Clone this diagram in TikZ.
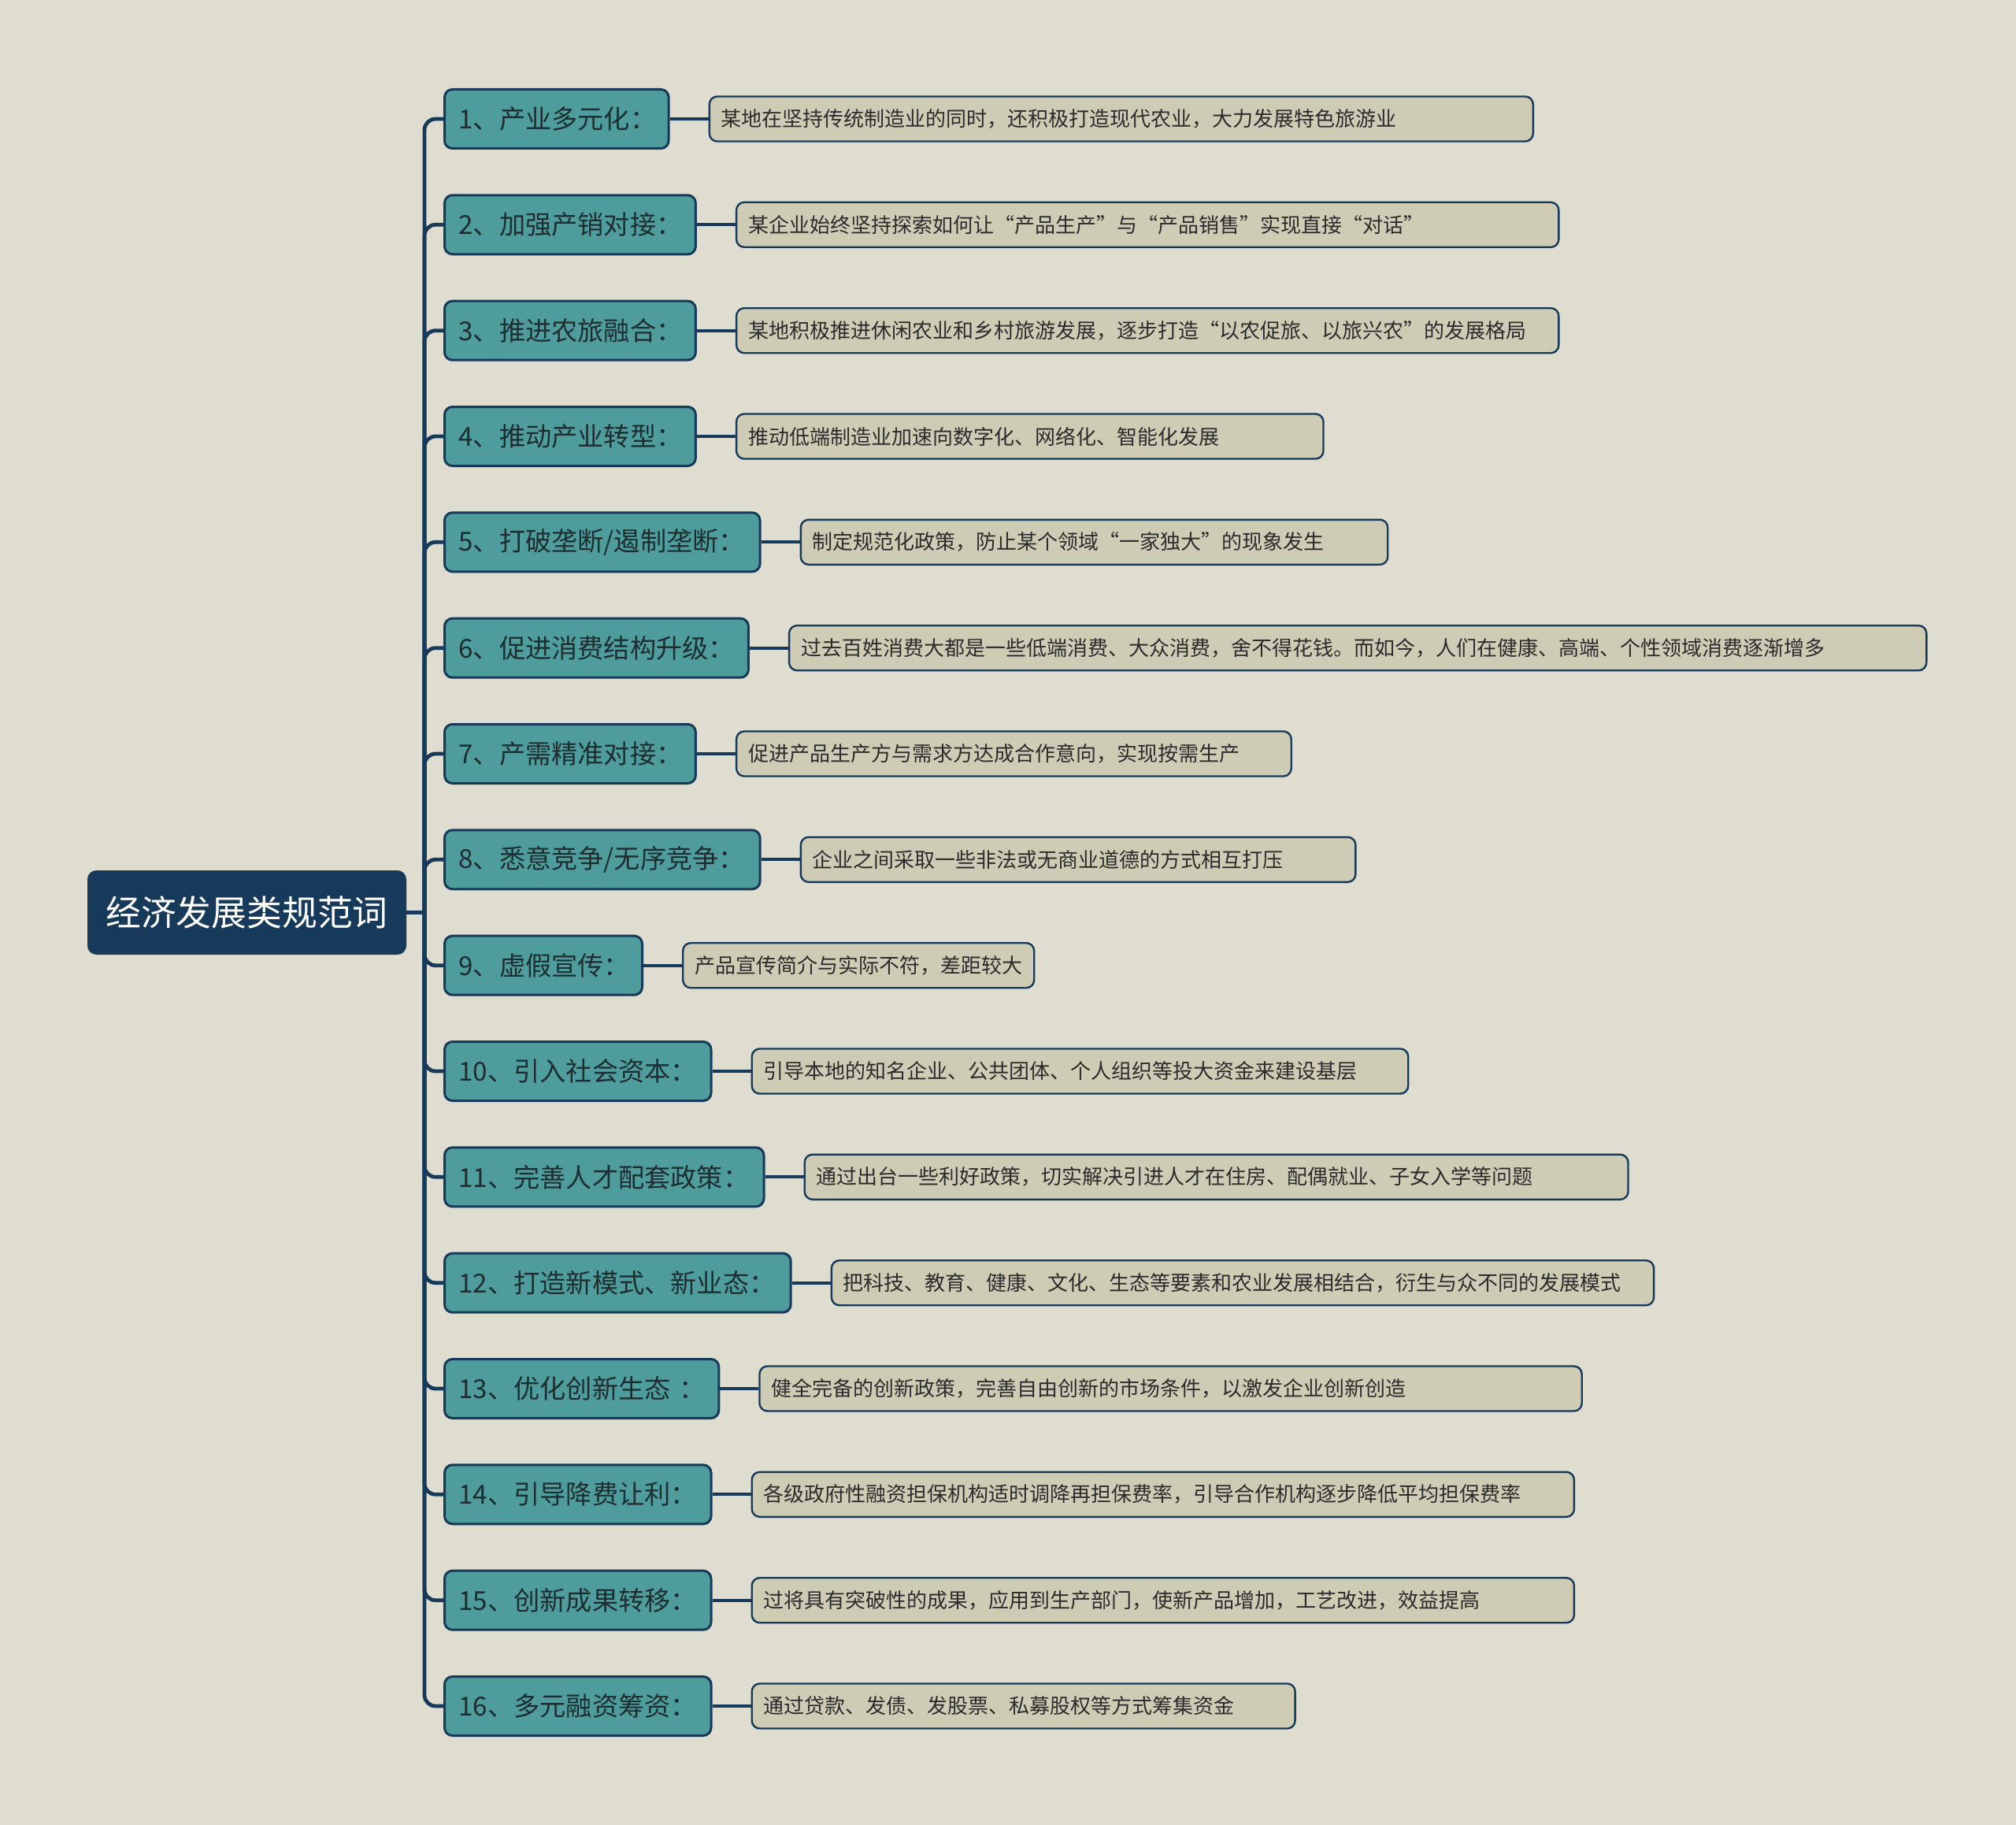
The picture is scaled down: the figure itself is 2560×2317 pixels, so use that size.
\documentclass[tikz,border=0pt]{standalone}
\usepackage{fontspec}
\usepackage{xcolor}
\usepackage{tikz}
\usetikzlibrary{positioning}
\newfontfamily\mapfont{Noto Sans CJK SC}
\definecolor{mapbg}{HTML}{DFDDCF}
\definecolor{mapnavy}{HTML}{173A5A}
\definecolor{mapteal}{HTML}{4E9C9C}
\definecolor{mapleaf}{HTML}{CFCCB6}
\definecolor{mapink}{HTML}{1E2D30}
\definecolor{leafink}{HTML}{2B2B2B}

\begin{document}
\begin{tikzpicture}
  [
    x=0.5pt,y=-0.5pt,
    topic/.style={rectangle,rounded corners=5pt,draw=mapnavy,fill=mapnavy,line width=1.5pt,text=white,font=\mapfont\fontsize{22.4pt}{26pt}\selectfont,minimum width=201pt,minimum height=52pt,inner sep=0pt},
    branch/.style={rectangle,rounded corners=5pt,draw=mapnavy,fill=mapteal,line width=1.5pt,text=mapink,font=\mapfont\fontsize{16.6pt}{19pt}\selectfont,anchor=west,minimum height=37.5pt,inner xsep=9pt,inner ysep=0pt,text width=#1,align=left},
    leaf/.style={rectangle,rounded corners=5pt,draw=mapnavy,fill=mapleaf,line width=1.2pt,text=leafink,font=\mapfont\fontsize{13pt}{16pt}\selectfont,minimum height=28.5pt,inner xsep=7.5pt,inner ysep=0pt,text width=#1,align=left},
    spine/.style={draw=mapnavy,line width=2.4pt,rounded corners=7pt},
    twig/.style={draw=mapnavy,line width=2pt}
  ]
  \fill[mapbg] (0,0) rectangle (2560,2317);
  \useasboundingbox (0,0) rectangle (2560,2317);

  \node[topic] at (313.5,1158.5) (root) {经济发展类规范词};
  \coordinate (hub) at (539,1158.5);

  % first level
  \node[branch=124.3pt] at (563,151) (c1) {1、产业多元化：};
  \node[branch=141.45pt] at (563,285.3) (c2) {2、加强产销对接：};
  \node[branch=141.45pt] at (563,419.7) (c3) {3、推进农旅融合：};
  \node[branch=141.45pt] at (563,554) (c4) {4、推动产业转型：};
  \node[branch=182.3pt] at (563,688.3) (c5) {5、打破垄断/遏制垄断：};
  \node[branch=174.95pt] at (563,822.7) (c6) {6、促进消费结构升级：};
  \node[branch=141.45pt] at (563,957) (c7) {7、产需精准对接：};
  \node[branch=182.3pt] at (563,1091.3) (c8) {8、悉意竞争/无序竞争：};
  \node[branch=107.5pt] at (563,1225.7) (c9) {9、虚假宣传：};
  \node[branch=151.25pt] at (563,1360) (c10) {10、引入社会资本：};
  \node[branch=184.75pt] at (563,1494.3) (c11) {11、完善人才配套政策：};
  \node[branch=201.85pt] at (563,1628.7) (c12) {12、打造新模式、新业态：};
  \node[branch=156.15pt] at (563,1763) (c13) {13、优化创新生态~：};
  \node[branch=151.25pt] at (563,1897.3) (c14) {14、引导降费让利：};
  \node[branch=151.25pt] at (563,2031.7) (c15) {15、创新成果转移：};
  \node[branch=151.25pt] at (563,2166) (c16) {16、多元融资筹资：};

  % second level
  \node[leaf=508pt,right=24.5pt of c1] (l1) {某地在坚持传统制造业的同时，还积极打造现代农业，大力发展特色旅游业};
  \node[leaf=507.1pt,right=24.5pt of c2] (l2) {某企业始终坚持探索如何让“产品生产”与“产品销售”实现直接“对话”};
  \node[leaf=507.1pt,right=24.5pt of c3] (l3) {某地积极推进休闲农业和乡村旅游发展，逐步打造“以农促旅、以旅兴农”的发展格局};
  \node[leaf=357.7pt,right=24.5pt of c4] (l4) {推动低端制造业加速向数字化、网络化、智能化发展};
  \node[leaf=357.7pt,right=24.5pt of c5] (l5) {制定规范化政策，防止某个领域“一家独大”的现象发生};
  \node[leaf=707.1pt,right=24.5pt of c6] (l6) {过去百姓消费大都是一些低端消费、大众消费，舍不得花钱。而如今，人们在健康、高端、个性领域消费逐渐增多};
  \node[leaf=337.3pt,right=24.5pt of c7] (l7) {促进产品生产方与需求方达成合作意向，实现按需生产};
  \node[leaf=337.3pt,right=24.5pt of c8] (l8) {企业之间采取一些非法或无商业道德的方式相互打压};
  \node[leaf=208pt,right=24.5pt of c9] (l9) {产品宣传简介与实际不符，差距较大};
  \node[leaf=401.75pt,right=24.5pt of c10] (l10) {引导本地的知名企业、公共团体、个人组织等投大资金来建设基层};
  \node[leaf=507.9pt,right=24.5pt of c11] (l11) {通过出台一些利好政策，切实解决引进人才在住房、配偶就业、子女入学等问题};
  \node[leaf=507.1pt,right=24.5pt of c12] (l12) {把科技、教育、健康、文化、生态等要素和农业发展相结合，衍生与众不同的发展模式};
  \node[leaf=507.1pt,right=24.5pt of c13] (l13) {健全完备的创新政策，完善自由创新的市场条件，以激发企业创新创造};
  \node[leaf=507.1pt,right=24.5pt of c14] (l14) {各级政府性融资担保机构适时调降再担保费率，引导合作机构逐步降低平均担保费率};
  \node[leaf=507.1pt,right=24.5pt of c15] (l15) {过将具有突破性的成果，应用到生产部门，使新产品增加，工艺改进，效益提高};
  \node[leaf=329.95pt,right=24.5pt of c16] (l16) {通过贷款、发债、发股票、私募股权等方式筹集资金};

  % connectors
  \draw[spine] (root.east) -- (hub);
  \draw[spine] (hub) |- (c1.west);
  \draw[spine] (hub) |- (c2.west);
  \draw[spine] (hub) |- (c3.west);
  \draw[spine] (hub) |- (c4.west);
  \draw[spine] (hub) |- (c5.west);
  \draw[spine] (hub) |- (c6.west);
  \draw[spine] (hub) |- (c7.west);
  \draw[spine] (hub) |- (c8.west);
  \draw[spine] (hub) |- (c9.west);
  \draw[spine] (hub) |- (c10.west);
  \draw[spine] (hub) |- (c11.west);
  \draw[spine] (hub) |- (c12.west);
  \draw[spine] (hub) |- (c13.west);
  \draw[spine] (hub) |- (c14.west);
  \draw[spine] (hub) |- (c15.west);
  \draw[spine] (hub) |- (c16.west);
  \draw[twig] (c1) -- (l1);
  \draw[twig] (c2) -- (l2);
  \draw[twig] (c3) -- (l3);
  \draw[twig] (c4) -- (l4);
  \draw[twig] (c5) -- (l5);
  \draw[twig] (c6) -- (l6);
  \draw[twig] (c7) -- (l7);
  \draw[twig] (c8) -- (l8);
  \draw[twig] (c9) -- (l9);
  \draw[twig] (c10) -- (l10);
  \draw[twig] (c11) -- (l11);
  \draw[twig] (c12) -- (l12);
  \draw[twig] (c13) -- (l13);
  \draw[twig] (c14) -- (l14);
  \draw[twig] (c15) -- (l15);
  \draw[twig] (c16) -- (l16);
\end{tikzpicture}
\end{document}
